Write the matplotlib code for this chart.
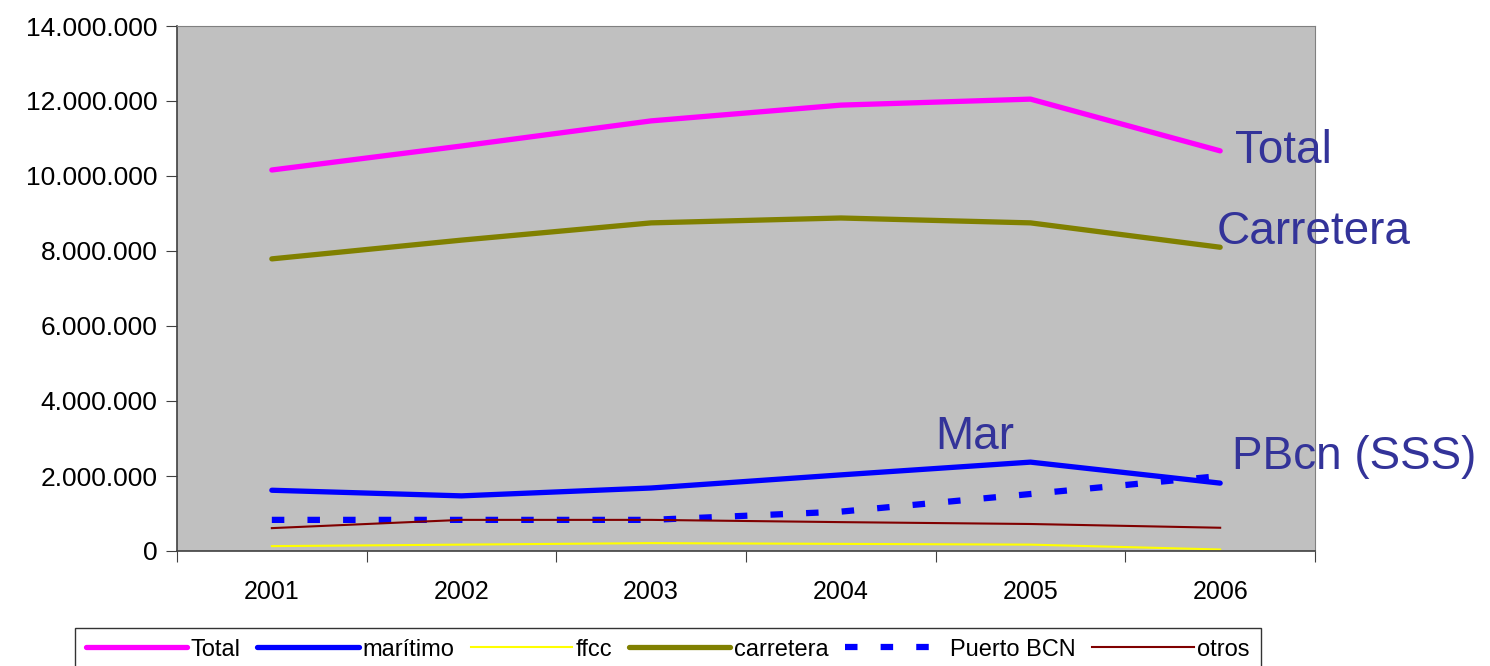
import matplotlib.pyplot as plt
from matplotlib.ticker import FuncFormatter, FixedLocator

years = ['2001', '2002', '2003', '2004', '2005', '2006']
total = [10160000, 10800000, 11470000, 11890000, 12050000, 10670000]
maritimo = [1620000, 1470000, 1680000, 2030000, 2370000, 1810000]
ffcc = [130000, 170000, 210000, 190000, 170000, 40000]
carretera = [7790000, 8290000, 8750000, 8880000, 8750000, 8100000]
puerto_bcn = [830000, 830000, 830000, 1050000, 1520000, 2000000]
otros = [610000, 830000, 830000, 770000, 720000, 620000]

plt.rcParams['font.family'] = ['Liberation Sans', 'DejaVu Sans']

fig = plt.figure(figsize=(14.9, 6.66), dpi=100)
ax = fig.add_axes([177/1490, 1-551/666, (1315-177)/1490, (551-26)/666])
ax.set_facecolor('#c0c0c0')

x = list(range(1, len(years) + 1))
ax.plot(x, total, color='#ff00ff', lw=3.8, solid_capstyle='round', label='Total')
ax.plot(x, maritimo, color='#0000ff', lw=3.8, solid_capstyle='round', label='marítimo')
ax.plot(x, ffcc, color='#ffff00', lw=1.5, label='ffcc')
ax.plot(x, carretera, color='#808000', lw=3.8, solid_capstyle='round', label='carretera')
ax.plot(x, puerto_bcn, color='#0000ff', lw=4.5, dashes=(2, 3.7), dash_capstyle='butt', label='Puerto BCN')
ax.plot(x, otros, color='#800000', lw=1.5, label='otros')

ax.set_xlim(0.5, 6.5)
ax.set_ylim(0, 14000000)
ax.set_yticks(range(0, 14000001, 2000000))
ax.yaxis.set_major_formatter(FuncFormatter(lambda v, p: f'{int(v):,}'.replace(',', '.')))
ax.xaxis.set_major_locator(FixedLocator([i + 0.5 for i in range(0, 7)]))
ax.xaxis.set_major_formatter(FuncFormatter(lambda v, p: ''))
ax.set_xticks(x, years, minor=True)
ax.tick_params(axis='x', which='minor', length=0, pad=21, labelsize=18)
ax.tick_params(axis='x', which='major', length=8, color='#404040', direction='out')
ax.tick_params(axis='y', length=8, color='#404040', labelsize=19, pad=6)
for s in ['top', 'right']:
    ax.spines[s].set_color('#808080')
for s in ['left', 'bottom']:
    ax.spines[s].set_color('#404040')
    ax.spines[s].set_linewidth(1.2)

tc = '#333399'
ax.text(6.08, 10670000, 'Total', color=tc, fontsize=33, va='center')
ax.text(5.98, 8500000, 'Carretera', color=tc, fontsize=33, va='center')
ax.text(4.5, 3050000, 'Mar', color=tc, fontsize=33, va='center')
ax.text(6.06, 2500000, 'PBcn (SSS)', color=tc, fontsize=33, va='center')

leg = fig.legend(loc='upper left', bbox_to_anchor=(75/1490, 1-628/666), ncol=6,
                 fontsize=17, handlelength=4.3, handletextpad=0.15, columnspacing=0.7,
                 frameon=True, fancybox=False, edgecolor='black', borderpad=0.45,
                 borderaxespad=0)
leg.get_frame().set_linewidth(1.0)

plt.savefig('out.png', dpi=100)
